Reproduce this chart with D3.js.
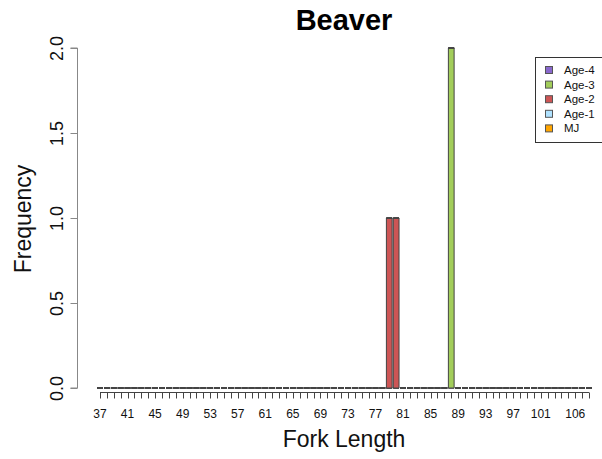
<!DOCTYPE html>
<html>
<head>
<meta charset="utf-8">
<script src="https://cdn.jsdelivr.net/npm/d3@7"></script>
<style>
  body { margin: 0; background: #fff; }
  svg { display: block; font-family: "Liberation Sans", Arial, sans-serif; }
</style>
</head>
<body>
<div id="chart"></div>
<script>
var width = 602,
    height = 459;

// fork length classes (one bar each)
var forkLengths = [
   37,  38,  39,  40,  41,  42,  43,  44,  45,  46,  47,  48,
   49,  50,  51,  52,  53,  54,  55,  56,  57,  58,  59,  60,
   61,  62,  63,  64,  65,  66,  67,  68,  69,  70,  71,  72,
   73,  74,  75,  76,  77,  78,  79,  80,  81,  82,  83,  84,
   85,  86,  87,  88,  89,  90,  91,  92,  93,  94,  95,  96,
   97,  98,  99, 100, 101, 102, 103, 104, 105, 106, 107, 108
];

// counts per age group, same order as forkLengths
var age4 = [
  0,0,0,0,0,0,0,0,0,0,0,0,
  0,0,0,0,0,0,0,0,0,0,0,0,
  0,0,0,0,0,0,0,0,0,0,0,0,
  0,0,0,0,0,0,0,0,0,0,0,0,
  0,0,0,0,0,0,0,0,0,0,0,0,
  0,0,0,0,0,0,0,0,0,0,0,0
];
var age3 = [
  0,0,0,0,0,0,0,0,0,0,0,0,
  0,0,0,0,0,0,0,0,0,0,0,0,
  0,0,0,0,0,0,0,0,0,0,0,0,
  0,0,0,0,0,0,0,0,0,0,0,0,
  0,0,0,2,0,0,0,0,0,0,0,0,
  0,0,0,0,0,0,0,0,0,0,0,0
];
var age2 = [
  0,0,0,0,0,0,0,0,0,0,0,0,
  0,0,0,0,0,0,0,0,0,0,0,0,
  0,0,0,0,0,0,0,0,0,0,0,0,
  0,0,0,0,0,0,1,1,0,0,0,0,
  0,0,0,0,0,0,0,0,0,0,0,0,
  0,0,0,0,0,0,0,0,0,0,0,0
];
var age1 = [
  0,0,0,0,0,0,0,0,0,0,0,0,
  0,0,0,0,0,0,0,0,0,0,0,0,
  0,0,0,0,0,0,0,0,0,0,0,0,
  0,0,0,0,0,0,0,0,0,0,0,0,
  0,0,0,0,0,0,0,0,0,0,0,0,
  0,0,0,0,0,0,0,0,0,0,0,0
];
var mj = [
  0,0,0,0,0,0,0,0,0,0,0,0,
  0,0,0,0,0,0,0,0,0,0,0,0,
  0,0,0,0,0,0,0,0,0,0,0,0,
  0,0,0,0,0,0,0,0,0,0,0,0,
  0,0,0,0,0,0,0,0,0,0,0,0,
  0,0,0,0,0,0,0,0,0,0,0,0
];

var groups = ["Age-4", "Age-3", "Age-2", "Age-1", "MJ"];
var groupColors = ["#8968CD", "#A2CD5A", "#CD5555", "#B0E2FF", "#FFA500"];

// labels that survive the overlap check on the x axis
var xLabels = [37, 41, 45, 49, 53, 57, 61, 65, 69, 73, 77, 81, 85, 89, 93, 97, 101, 106];
var yTicks = [0, 0.5, 1, 1.5, 2];

var series = [age4, age3, age2, age1, mj];
var rows = forkLengths.map(function(fl, i) {
  var r = {fl: fl};
  groups.forEach(function(g, j) { r[g] = series[j][i]; });
  return r;
});

var svg = d3.select("#chart").append("svg")
    .attr("width", width)
    .attr("height", height);

var x = d3.scaleBand()
    .domain(forkLengths)
    .range([96.56, 592.44])
    .paddingInner(1 / 6)
    .paddingOuter(1 / 12);

var y = d3.scaleLinear()
    .domain([0, 2])
    .range([388, 48]);

var color = d3.scaleOrdinal().domain(groups).range(groupColors);

var stacked = d3.stack().keys(groups)(rows);

// bars (zero-height ones still leave their border, as in R)
svg.append("g")
  .selectAll("g")
  .data(stacked)
  .enter().append("g")
    .attr("fill", function(d) { return color(d.key); })
  .selectAll("path")
  .data(function(d) { return d; })
  .enter().append("path")
    .attr("stroke", "#444")
    .attr("stroke-width", 1)
    .attr("d", function(d) {
      var x0 = x(d.data.fl), x1 = x0 + x.bandwidth();
      var y0 = y(d[0]), y1 = y(d[1]);
      return "M" + x0 + "," + y0 + "H" + x1 + "V" + y1 + "H" + x0 + "Z";
    });

// x axis: line from first to last bar, ticks at each bar
var xAxis = svg.append("g")
    .attr("transform", "translate(0,392)");
var first = x(forkLengths[0]) + x.bandwidth() / 2,
    last = x(forkLengths[forkLengths.length - 1]) + x.bandwidth() / 2;
xAxis.append("line")
    .attr("x1", first).attr("x2", last)
    .attr("y1", 0.5).attr("y2", 0.5)
    .attr("stroke", "#444");
xAxis.selectAll(".tick")
  .data(forkLengths)
  .enter().append("line")
    .attr("class", "tick")
    .attr("x1", function(d) { return Math.round(x(d) + x.bandwidth() / 2) + 0.5; })
    .attr("x2", function(d) { return Math.round(x(d) + x.bandwidth() / 2) + 0.5; })
    .attr("y1", 0.5).attr("y2", 6.5)
    .attr("stroke", "#444");
xAxis.selectAll(".lab")
  .data(xLabels)
  .enter().append("text")
    .attr("class", "lab")
    .attr("x", function(d) { return x(d) + x.bandwidth() / 2; })
    .attr("y", 26)
    .attr("text-anchor", "middle")
    .attr("font-size", "12px")
    .attr("fill", "#111")
    .text(function(d) { return d; });

// y axis
var yAxis = svg.append("g")
    .attr("transform", "translate(77.5,0)")
    .call(d3.axisLeft(y).tickValues(yTicks).tickSize(7).tickFormat(d3.format(".1f")));
yAxis.select(".domain").attr("stroke", "#888").attr("d", "M-7," + y(2) + "H0V" + y(0) + "H-7");
yAxis.selectAll(".tick line").attr("stroke", "#888");
yAxis.selectAll(".tick text")
    .attr("font-size", "18px")
    .attr("fill", "#111")
    .attr("x", null).attr("dy", null)
    .attr("text-anchor", "middle")
    .attr("transform", "translate(-15,0) rotate(-90)");

// titles
svg.append("text")
    .attr("x", 344).attr("y", 30)
    .attr("text-anchor", "middle")
    .attr("font-size", "29px")
    .attr("font-weight", "bold")
    .text("Beaver");

svg.append("text")
    .attr("x", 344).attr("y", 447)
    .attr("text-anchor", "middle")
    .attr("font-size", "23px")
    .attr("fill", "#111")
    .text("Fork Length");

svg.append("text")
    .attr("transform", "translate(31,219) rotate(-90)")
    .attr("text-anchor", "middle")
    .attr("font-size", "23px")
    .attr("fill", "#111")
    .text("Frequency");

// legend
var legend = svg.append("g");
legend.append("rect")
    .attr("x", 535.5).attr("y", 57.5)
    .attr("width", 120).attr("height", 85)
    .attr("fill", "#fff")
    .attr("stroke", "#333");
var item = legend.selectAll(".item")
  .data(groups)
  .enter().append("g")
    .attr("class", "item")
    .attr("transform", function(d, i) { return "translate(0," + (70 + i * 14.6) + ")"; });
item.append("rect")
    .attr("x", 545.5).attr("y", -3.5)
    .attr("width", 7).attr("height", 7)
    .attr("fill", function(d) { return color(d); })
    .attr("stroke", "#555");
item.append("text")
    .attr("x", 564).attr("y", 4)
    .attr("font-size", "11.5px")
    .attr("fill", "#111")
    .text(function(d) { return d; });
</script>
</body>
</html>
